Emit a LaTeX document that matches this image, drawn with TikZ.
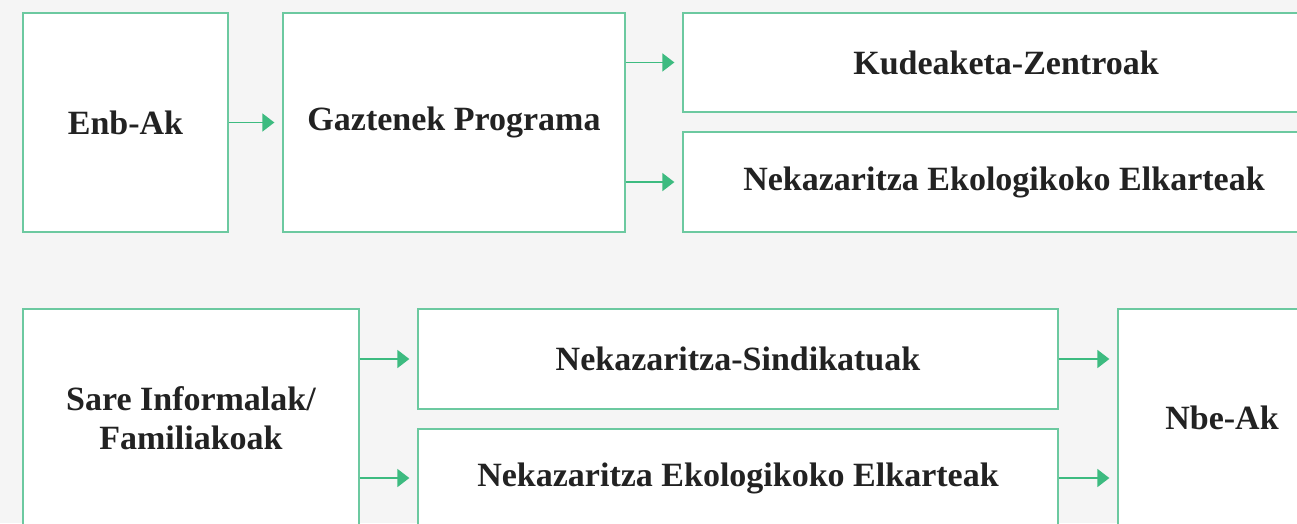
\documentclass[tikz,border=0pt]{standalone}
\usepackage{fontspec}
\setmainfont{Liberation Serif}
\usetikzlibrary{arrows.meta}
\definecolor{bg}{HTML}{F5F5F5}
\definecolor{edge}{HTML}{6CC9A0}
\definecolor{arrowc}{HTML}{3DBB80}
\definecolor{ink}{HTML}{222222}
\tikzset{
  box/.style={draw=edge, fill=white, line width=1.3pt, rectangle, inner sep=0pt,
    text=ink, font=\fontsize{34}{39}\selectfont\bfseries, align=center},
  arr/.style={draw=arrowc, line width=1.6pt, shorten >=8pt,
    -{Triangle[length=12pt,width=18pt]}},
}
\begin{document}
\begin{tikzpicture}[x=1pt,y=-1pt]
\useasboundingbox (0,0) rectangle (1297,523);
\fill[bg] (0,0) rectangle (1297,523);
\clip (0,0) rectangle (1297,523);
\node[box, minimum width=205pt, minimum height=219pt] (enb) at (125.5,122.5) {Enb-Ak};
\node[box, minimum width=342pt, minimum height=219pt] (gaz) at (454,122.5) {Gaztenek Programa};
\node[box, minimum width=646pt, minimum height=99pt] (kud) at (1006,62.5) {Kudeaketa-Zentroak};
\node[box, minimum width=642pt, minimum height=100pt] (nek1) at (1004,182) {Nekazaritza Ekologikoko Elkarteak};
\node[box, minimum width=336pt, minimum height=218pt] (sare) at (191,418) {Sare Informalak/\\Familiakoak};
\node[box, minimum width=640pt, minimum height=100pt] (sind) at (738,359) {Nekazaritza-Sindikatuak};
\node[box, minimum width=640pt, minimum height=98pt] (nek2) at (738,478) {Nekazaritza Ekologikoko Elkarteak};
\node[box, minimum width=208pt, minimum height=218pt] (nbe) at (1222,418) {Nbe-Ak};
\draw[arr] (enb.east) -- (gaz.west);
\draw[arr] (gaz.east |- kud.west) -- (kud.west);
\draw[arr] (gaz.east |- nek1.west) -- (nek1.west);
\draw[arr] (sare.east |- sind.west) -- (sind.west);
\draw[arr] (sare.east |- nek2.west) -- (nek2.west);
\draw[arr] (sind.east) -- (nbe.west |- sind.east);
\draw[arr] (nek2.east) -- (nbe.west |- nek2.east);
\end{tikzpicture}
\end{document}
